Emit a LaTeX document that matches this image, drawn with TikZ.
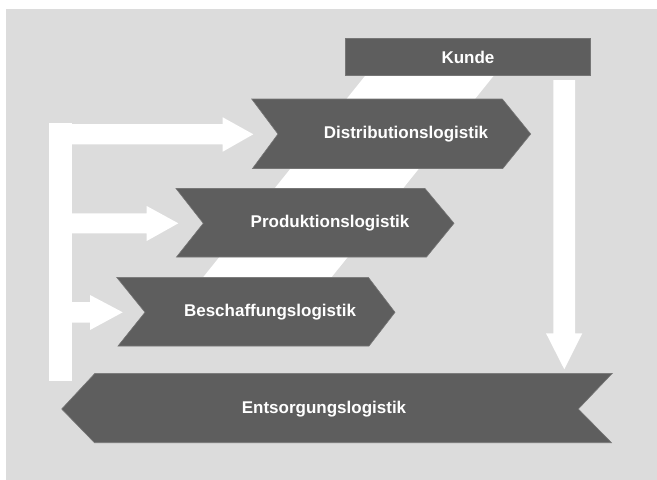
\documentclass[tikz,border=0pt]{standalone}
\usepackage{fontspec}
\setmainfont{Liberation Sans}
\definecolor{bgray}{HTML}{DCDCDC}
\definecolor{dgray}{HTML}{5E5E5E}
\tikzset{
  chev/.style={fill=dgray, draw=dgray!85!white, line width=0.6pt},
  lbl/.style={text=white, font=\bfseries\fontsize{17}{19}\selectfont, inner sep=0pt},
  wflow/.style={fill=white, draw=none}
}
\begin{document}
\begin{tikzpicture}[x=1pt,y=-1pt]
\useasboundingbox (0,0) rectangle (657,480);
% background
\fill[bgray] (6,9.3) rectangle (657,480);
% diagonal white band
\fill[wflow] (365,76) -- (493.5,76) -- (331.7,277) -- (203.3,277) -- cycle;
% left feedback structure
\fill[wflow] (49.3,123.3) rectangle (71.7,381);
% arrow into Distribution
\fill[wflow] (71,124) -- (222.7,124) -- (222.7,117.3) -- (253.3,134.3) -- (222.7,151.7) -- (222.7,144.3) -- (71,144.3) -- cycle;
% arrow into Produktion
\fill[wflow] (71,213.3) -- (146.7,213.3) -- (146.7,206) -- (178.3,223.3) -- (146.7,241) -- (146.7,233.3) -- (71,233.3) -- cycle;
% arrow into Beschaffung
\fill[wflow] (71,302) -- (90,302) -- (90,295) -- (122.7,312.3) -- (90,330) -- (90,322.6) -- (71,322.6) -- cycle;
% down arrow from Kunde
\fill[wflow] (553.3,80) -- (575,80) -- (575,333.3) -- (582.3,333.3) -- (564.3,369.3) -- (546,333.3) -- (553.3,333.3) -- cycle;
% Kunde
\fill[chev] (345.7,38.3) rectangle (590,75.7);
\node[lbl] (kunde) at (468,57.5) {Kunde};
% Distribution
\fill[chev] (251.7,99) -- (502.3,99) -- (530.7,134) -- (502.8,168.5) -- (252.5,168.5) -- (278,134) -- cycle;
\node[lbl] (dist) at (406,134) {Distributionslogistik};
% Produktion
\fill[chev] (176,188.5) -- (425,188.5) -- (454,223.3) -- (426.5,257) -- (176.5,257) -- (203.3,223.3) -- cycle;
\node[lbl] (prod) at (330,223.3) {Produktionslogistik};
% Beschaffung
\fill[chev] (116.7,277.3) -- (368.3,277.3) -- (395,312.3) -- (369,346) -- (118,346) -- (145,312.3) -- cycle;
\node[lbl] (besch) at (270,312.3) {Beschaffungslogistik};
% Entsorgung
\fill[chev] (95,373.3) -- (612.3,373.3) -- (578.3,409) -- (611.5,442.7) -- (94.5,442.7) -- (61.7,409) -- cycle;
\node[lbl] (ents) at (324,409) {Entsorgungslogistik};
\end{tikzpicture}
\end{document}
